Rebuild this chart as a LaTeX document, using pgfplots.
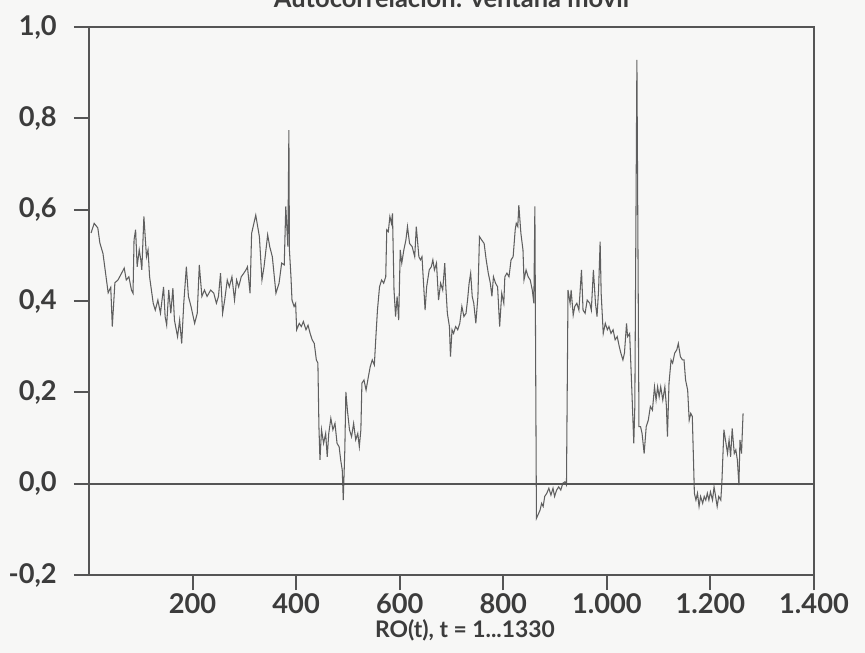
\documentclass[border=0pt]{standalone}
\usepackage{fontspec}
\setmainfont{Lato}
\usepackage{pgfplots}
\pgfplotsset{compat=1.18}
\usepackage{pgfplotstable}
\definecolor{bgcol}{RGB}{247,247,246}
\definecolor{axisgray}{RGB}{85,85,85}
\definecolor{linegray}{RGB}{95,95,95}
\definecolor{labelgray}{RGB}{60,60,60}

% ro(t), rolling-window autocorrelation
\pgfplotstableread{
x y
4 0.549
10 0.570
17 0.560
21 0.527
27 0.504
37 0.418
42 0.430
45 0.344
50 0.440
56 0.446
63 0.461
68 0.472
72 0.446
77 0.453
82 0.424
85 0.417
87 0.534
90 0.556
93 0.475
97 0.512
100 0.490
102 0.468
106 0.585
111 0.497
114 0.512
117 0.453
124 0.395
128 0.380
133 0.402
138 0.373
144 0.431
147 0.366
150 0.347
154 0.424
158 0.373
162 0.428
165 0.358
171 0.322
175 0.358
179 0.307
183 0.395
188 0.475
192 0.410
197 0.388
204 0.351
209 0.373
213 0.479
218 0.410
223 0.424
228 0.410
235 0.424
241 0.417
246 0.395
250 0.410
254 0.461
258 0.373
262 0.402
267 0.446
271 0.431
276 0.453
281 0.402
285 0.446
289 0.431
294 0.453
299 0.461
303 0.468
306 0.475
311 0.417
314 0.548
322 0.588
329 0.541
334 0.446
338 0.475
345 0.545
349 0.519
354 0.497
361 0.417
367 0.439
372 0.483
377 0.479
380 0.607
384 0.519
386 0.774
387 0.512
390 0.453
392 0.402
396 0.388
399 0.395
401 0.337
406 0.351
410 0.344
414 0.355
419 0.337
423 0.347
427 0.329
431 0.315
435 0.307
439 0.271
442 0.264
444 0.125
446 0.052
449 0.118
453 0.088
457 0.110
460 0.059
463 0.110
467 0.143
471 0.118
475 0.132
479 0.088
483 0.081
486 0.052
489 0.030
491 -0.036
494 0.074
496 0.201
499 0.161
503 0.118
507 0.103
511 0.132
515 0.096
519 0.110
522 0.081
525 0.118
527 0.220
531 0.227
535 0.205
539 0.231
543 0.256
547 0.271
551 0.260
554 0.322
557 0.380
561 0.431
565 0.446
569 0.439
573 0.453
575 0.556
578 0.552
581 0.585
584 0.570
586 0.592
589 0.424
592 0.366
595 0.410
598 0.358
601 0.512
604 0.483
608 0.512
612 0.534
615 0.563
619 0.526
624 0.519
629 0.497
632 0.563
637 0.497
640 0.490
643 0.497
649 0.380
652 0.431
657 0.468
661 0.475
664 0.490
667 0.468
671 0.483
675 0.402
679 0.439
683 0.424
687 0.483
689 0.431
692 0.373
696 0.344
698 0.278
701 0.337
704 0.329
708 0.344
712 0.337
716 0.351
720 0.388
724 0.366
728 0.373
731 0.402
734 0.439
737 0.461
740 0.410
743 0.395
747 0.351
751 0.410
754 0.541
758 0.534
763 0.526
767 0.490
771 0.461
775 0.439
778 0.410
781 0.453
785 0.439
789 0.431
793 0.344
797 0.417
801 0.395
803 0.453
807 0.461
811 0.453
815 0.490
819 0.497
823 0.556
825 0.570
828 0.563
830 0.610
834 0.548
838 0.512
840 0.446
844 0.468
848 0.453
852 0.446
856 0.424
859 0.395
861 0.607
864 -0.076
871 -0.058
874 -0.043
877 -0.050
880 -0.028
884 -0.021
888 -0.010
892 -0.025
896 -0.010
899 -0.028
903 -0.014
907 -0.007
911 -0.014
915 0.001
919 0.004
922 -0.003
925 0.424
929 0.395
931 0.424
935 0.369
938 0.388
942 0.395
946 0.380
951 0.468
954 0.380
958 0.373
962 0.402
967 0.395
970 0.380
974 0.468
978 0.395
981 0.366
984 0.424
987 0.530
989 0.417
993 0.329
997 0.351
1001 0.337
1004 0.344
1008 0.329
1012 0.337
1016 0.315
1020 0.322
1024 0.300
1027 0.286
1031 0.271
1034 0.286
1038 0.351
1040 0.322
1044 0.329
1048 0.212
1052 0.088
1054 0.169
1058 0.928
1062 0.125
1065 0.125
1068 0.110
1072 0.066
1076 0.125
1080 0.139
1084 0.169
1088 0.161
1092 0.212
1095 0.183
1098 0.212
1101 0.190
1104 0.212
1108 0.183
1112 0.212
1115 0.169
1117 0.103
1120 0.220
1124 0.271
1127 0.264
1131 0.286
1135 0.293
1138 0.307
1142 0.278
1146 0.271
1149 0.271
1152 0.227
1156 0.205
1159 0.139
1162 0.154
1165 0.147
1169 -0.021
1172 -0.036
1175 -0.021
1178 -0.050
1181 -0.028
1185 -0.043
1188 -0.028
1191 -0.036
1194 -0.021
1197 -0.036
1200 -0.018
1204 -0.036
1207 -0.007
1210 -0.028
1213 -0.050
1216 -0.028
1220 -0.036
1222 0.000
1226 0.118
1229 0.096
1233 0.066
1236 0.096
1239 0.059
1242 0.121
1246 0.066
1249 0.074
1252 0.052
1255 -0.003
1257 0.096
1260 0.066
1263 0.154
}\rodata

\begin{document}
\begin{tikzpicture}
\fill[bgcol] (-1.78,-1.56) rectangle (15.52,11.5);
\useasboundingbox (-1.78,-1.56) rectangle (15.52,11.5);
\begin{axis}[
  at={(0,0)}, anchor=south west,
  scale only axis, width=14.5cm, height=10.96cm,
  xmin=0, xmax=1400, ymin=-0.2, ymax=1.0,
  xtick={200,400,600,800,1000,1200,1400},
  ytick={-0.2,0,0.2,0.4,0.6,0.8,1.0},
  tick align=outside, major tick length=0.3cm,
  xtick pos=left, ytick pos=left,
  axis line style={draw=axisgray, line width=1.1pt},
  tick style={draw=axisgray, line width=1.1pt},
  ticklabel style={font=\bfseries\fontsize{15.5}{16}\selectfont, text=labelgray},
  x tick label style={yshift=0.06cm, /pgf/number format/.cd, 1000 sep={.}, assume math mode=true},
  y tick label style={xshift=-0.22cm, /pgf/number format/.cd, fixed, fixed zerofill, precision=1, use comma, assume math mode=true},
]
  \addplot[draw=linegray, line width=0.6pt] table[x=x, y=y] {\rodata};
  \addplot[draw=axisgray, line width=1.1pt] coordinates {(0,0) (1400,0)};
\end{axis}
\node[anchor=base, font=\bfseries\fontsize{14.5}{16}\selectfont, text=labelgray] at (7.25,11.34) {Autocorrelación: ventana móvil};
\node[anchor=base, font=\bfseries\fontsize{13}{15}\selectfont, text=labelgray] at (7.52,-1.26) {RO(t), t = 1...1330};
\end{tikzpicture}
\end{document}
